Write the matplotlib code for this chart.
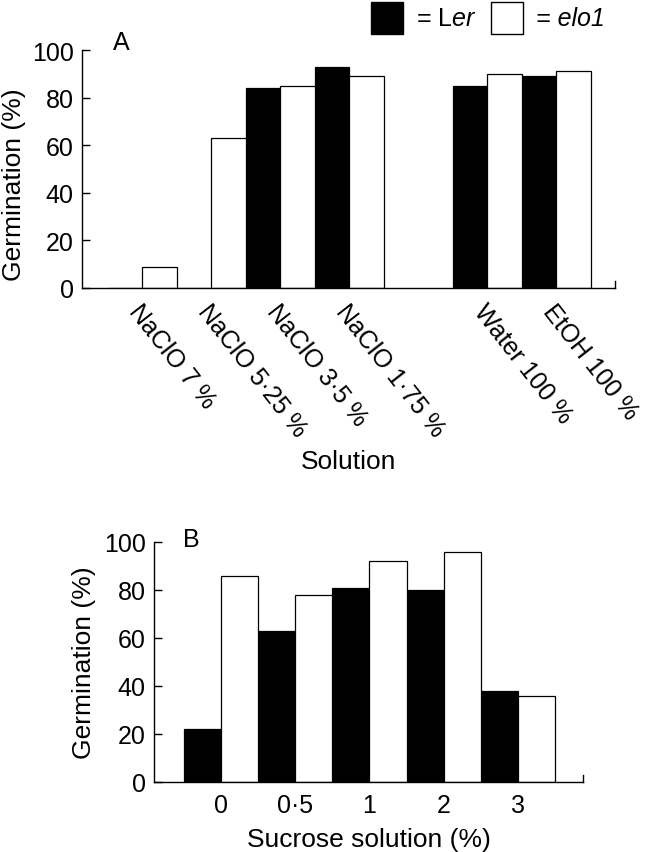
import numpy as np
import matplotlib
matplotlib.use('Agg')
import matplotlib.pyplot as plt
from matplotlib.patches import Rectangle

#font setup, Helvetica look-alike
plt.rcParams['font.family'] = ['Liberation Sans', 'DejaVu Sans']
plt.rcParams['mathtext.fontset'] = 'custom'
plt.rcParams['mathtext.rm'] = 'Liberation Sans'
plt.rcParams['mathtext.it'] = 'Liberation Sans:italic'

#data
#panel A: germination after different solutions
solutions = ['NaClO 7 %', 'NaClO 5·25 %', 'NaClO 3·5 %', 'NaClO 1·75 %', 'Water 100 %', 'EtOH 100 %']
ler_a = [0, 0, 84, 93, 85, 89]
elo_a = [9, 63, 85, 89, 90, 91]

#panel B: germination on sucrose
sucrose = ['0', '0·5', '1', '2', '3']
ler_b = [22, 63, 81, 80, 38]
elo_b = [86, 78, 92, 96, 36]

#layout
a_slots = [0, 1, 2, 3, 5, 6]   # gap between NaClO and control groups
b_slots = np.arange(len(sucrose))
w = 0.5
tick_fs = 18
label_fs = 19

fig = plt.figure(figsize=(6.51, 8.53), dpi=100)
axA = fig.add_axes([82/651, 1 - 289/853, 533/651, 238/853])
axB = fig.add_axes([154/651, 1 - 783/853, 429/651, 240/853])


def style(ax, xlim):
    ax.set_xlim(*xlim)
    ax.set_ylim(0, 100)
    ax.spines['top'].set_visible(False)
    ax.spines['right'].set_visible(False)
    for s in ['left', 'bottom']:
        ax.spines[s].set_linewidth(1.0)
    ax.set_yticks([0, 20, 40, 60, 80, 100])
    ax.tick_params(axis='y', direction='in', length=6, width=1.0, labelsize=tick_fs, pad=6)
    ax.tick_params(axis='x', length=0, labelsize=tick_fs)
    # small upward tick at the right end of the x axis
    ax.plot([1, 1], [0, 0.03], transform=ax.transAxes, color='black', lw=1.0, clip_on=False)


#panel A
xa = np.array(a_slots)
axA.bar(xa - w/2, ler_a, w, color='black', edgecolor='black', linewidth=0.9)
axA.bar(xa + w/2, elo_a, w, color='white', edgecolor='black', linewidth=0.9)
style(axA, (-0.87, 6.855))
axA.set_xticks(xa + 0.02)
axA.set_xticklabels(solutions, rotation=-52, ha='left', va='top', rotation_mode='anchor')
axA.tick_params(axis='x', pad=8)
axA.set_xlabel('Solution', fontsize=label_fs, labelpad=6)
axA.set_ylabel('Germination (%)', fontsize=label_fs)
axA.yaxis.set_label_coords(-0.105, 0.44)

#panel B
axB.bar(b_slots - w/2, ler_b, w, color='black', edgecolor='black', linewidth=0.9)
axB.bar(b_slots + w/2, elo_b, w, color='white', edgecolor='black', linewidth=0.9)
style(axB, (-0.90, 4.875))
axB.set_xticks(b_slots)
axB.set_xticklabels(sucrose)
axB.tick_params(axis='x', pad=8)
axB.set_xlabel('Sucrose solution (%)', fontsize=label_fs, labelpad=7)
axB.set_ylabel('Germination (%)', fontsize=label_fs)
axB.yaxis.set_label_coords(-0.135, 0.5)

#panel letters
fig.text(121/651, 1 - 43/853, 'A', fontsize=tick_fs, ha='center', va='center')
fig.text(191/651, 1 - 540/853, 'B', fontsize=tick_fs, ha='center', va='center')

#legend drawn by hand (boxes + text)
fig.add_artist(Rectangle((371/651, 1 - 35/853), 32/651, 32/853, transform=fig.transFigure,
                         facecolor='black', edgecolor='black', lw=1.0))
fig.add_artist(Rectangle((491/651, 1 - 35/853), 32/651, 32/853, transform=fig.transFigure,
                         facecolor='white', edgecolor='black', lw=1.0))
fig.text(416/651, 1 - 19/853, r'= L$\mathit{er}$', fontsize=tick_fs, ha='left', va='center')
fig.text(536/651, 1 - 19/853, '= elo1', fontsize=tick_fs, style='italic', ha='left', va='center')

fig.savefig('out.png', dpi=100)
